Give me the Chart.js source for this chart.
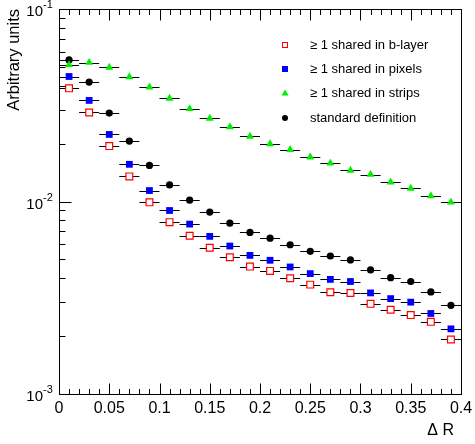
<!DOCTYPE html>
<html>
<head>
<meta charset="utf-8">
<script src="https://cdn.jsdelivr.net/npm/chart.js@4.4.1/dist/chart.umd.min.js"></script>
<style>
  html, body { margin: 0; padding: 0; background: #fff; }
  canvas { display: block; }
</style>
</head>
<body>
<canvas id="chart" width="475" height="444"></canvas>
<script>
// bin centres in delta R (bin width 0.02)
const binCenters = [0.01,0.03,0.05,0.07,0.09,0.11,0.13,0.15,0.17,0.19,0.21,0.23,0.25,0.27,0.29,0.31,0.33,0.35,0.37,0.39];
const binHalfWidth = 0.01;

const bLayer   = [0.0387,0.0290,0.0194,0.0135,0.0099,0.00781,0.00664,0.00575,0.00513,0.00459,0.00436,0.00399,0.00370,0.00338,0.00335,0.00294,0.00274,0.00257,0.00237,0.00192];
const pixels   = [0.0446,0.0335,0.0223,0.0156,0.0114,0.00898,0.00763,0.00659,0.00587,0.00525,0.00495,0.00457,0.00422,0.00394,0.00384,0.00335,0.00313,0.00300,0.00262,0.00218];
const strips   = [0.0513,0.0527,0.0497,0.0444,0.0393,0.0343,0.0303,0.0270,0.0244,0.0218,0.0199,0.0186,0.0170,0.0158,0.0145,0.0138,0.0126,0.0117,0.0107,0.00991];
const standard = [0.0544,0.0417,0.0288,0.0206,0.0154,0.0122,0.01016,0.00881,0.00772,0.00691,0.00645,0.00596,0.00551,0.00521,0.00497,0.00441,0.00402,0.00384,0.00339,0.00289];

const seriesLabels = ['\u2265 1 shared in b-layer', '\u2265 1 shared in pixels', '\u2265 1 shared in strips', 'standard definition'];

const xTickValues = [0, 0.05, 0.1, 0.15, 0.2, 0.25, 0.3, 0.35, 0.4];
const xTickLabels = ['0', '0.05', '0.1', '0.15', '0.2', '0.25', '0.3', '0.35', '0.4'];
const yDecades = [0.001, 0.01, 0.1];
const yExponents = ['-3', '-2', '-1'];
const xTitle = '\u0394 R';
const yTitle = 'Arbitrary units';

const FONT = '"Liberation Sans", Arial, Helvetica, sans-serif';

function toPoints(vals) {
  return vals.map((v, i) => ({ x: binCenters[i], y: v }));
}

const rootStyle = {
  id: 'rootStyle',
  beforeDatasetsDraw(chart) {
    // horizontal error bars (bin width)
    const ctx = chart.ctx, xs = chart.scales.x, ys = chart.scales.y;
    ctx.save();
    ctx.strokeStyle = '#000';
    ctx.lineWidth = 1;
    chart.data.datasets.forEach(ds => {
      ds.data.forEach(p => {
        const y = Math.round(ys.getPixelForValue(p.y)) + 0.5;
        ctx.beginPath();
        ctx.moveTo(xs.getPixelForValue(p.x - binHalfWidth), y);
        ctx.lineTo(xs.getPixelForValue(p.x + binHalfWidth), y);
        ctx.stroke();
      });
    });
    ctx.restore();
  },
  afterDraw(chart) {
    const ctx = chart.ctx, xs = chart.scales.x, ys = chart.scales.y;
    const a = chart.chartArea;
    const L = Math.round(a.left) + 0.5, R = Math.round(a.right) + 0.5;
    const T = Math.round(a.top) + 0.5, B = Math.round(a.bottom) + 0.5;
    ctx.save();
    ctx.strokeStyle = '#000';
    ctx.lineWidth = 1;
    ctx.strokeRect(L, T, R - L, B - T);

    // x ticks, bottom and top, pointing inwards
    ctx.beginPath();
    for (let k = 0; k <= 40; k++) {
      const x = Math.round(xs.getPixelForValue(k * 0.01)) + 0.5;
      const len = (k % 5 === 0) ? 11 : 5.5;
      ctx.moveTo(x, B); ctx.lineTo(x, B - len);
      ctx.moveTo(x, T); ctx.lineTo(x, T + len);
    }
    // y ticks on the left axis
    for (let d = 0; d < yDecades.length; d++) {
      for (let m = 1; m <= 9; m++) {
        const v = yDecades[d] * m;
        if (v > 0.1 + 1e-9) break;
        const y = Math.round(ys.getPixelForValue(v)) + 0.5;
        const len = (m === 1) ? 12 : 6;
        ctx.moveTo(L, y); ctx.lineTo(L + len, y);
      }
    }
    ctx.stroke();

    // x tick labels
    ctx.fillStyle = '#000';
    ctx.font = '16px ' + FONT;
    ctx.textAlign = 'center';
    ctx.textBaseline = 'middle';
    xTickValues.forEach((v, i) => {
      ctx.fillText(xTickLabels[i], xs.getPixelForValue(v), B + 14);
    });

    // y tick labels 10^n
    yDecades.forEach((v, i) => {
      const y = ys.getPixelForValue(v);
      ctx.font = '15px ' + FONT;
      ctx.textAlign = 'right';
      ctx.textBaseline = 'middle';
      ctx.fillText('10', 43, y + 3);
      ctx.font = '11px ' + FONT;
      ctx.textAlign = 'left';
      ctx.fillText(yExponents[i], 43, y - 4);
    });

    // axis titles
    ctx.font = '16px ' + FONT;
    ctx.textAlign = 'right';
    ctx.textBaseline = 'middle';
    ctx.fillText(xTitle, 454, 431);
    ctx.save();
    ctx.translate(14, a.top);
    ctx.rotate(-Math.PI / 2);
    ctx.textAlign = 'right';
    ctx.font = '16.5px ' + FONT;
    ctx.fillText(yTitle, 0, 0);
    ctx.restore();

    // legend
    ctx.font = '13px ' + FONT;
    ctx.textAlign = 'left';
    ctx.textBaseline = 'middle';
    const rows = [45, 69, 93, 118];
    chart.data.datasets.forEach((ds, i) => {
      const y = rows[i], x = 285;
      ctx.fillStyle = ds.backgroundColor;
      ctx.strokeStyle = ds.borderColor;
      ctx.lineWidth = 1;
      if (ds.pointStyle === 'rect') {
        ctx.fillRect(x - 3, y - 3, 6, 6);
        ctx.strokeRect(x - 2.5, y - 2.5, 5, 5);
      } else if (ds.pointStyle === 'triangle') {
        ctx.beginPath();
        ctx.moveTo(x, y - 3.5); ctx.lineTo(x + 3.5, y + 2.5); ctx.lineTo(x - 3.5, y + 2.5);
        ctx.closePath(); ctx.fill();
      } else {
        ctx.beginPath(); ctx.arc(x, y, 3, 0, Math.PI * 2); ctx.fill();
      }
      ctx.fillStyle = '#000';
      ctx.fillText(seriesLabels[i], 310, y);
    });
    ctx.restore();
  }
};

new Chart(document.getElementById('chart'), {
  type: 'scatter',
  data: {
    datasets: [
      { label: seriesLabels[0], data: toPoints(bLayer), pointStyle: 'rect', pointRadius: 4.8, borderWidth: 1.2, borderColor: '#ff0000', backgroundColor: '#ffffff' },
      { label: seriesLabels[1], data: toPoints(pixels), pointStyle: 'rect', pointRadius: 4.8, borderWidth: 0, borderColor: '#0000ff', backgroundColor: '#0000ff' },
      { label: seriesLabels[2], data: toPoints(strips), pointStyle: 'triangle', pointRadius: 4.6, borderWidth: 0, borderColor: '#00ee00', backgroundColor: '#00ee00' },
      { label: seriesLabels[3], data: toPoints(standard), pointStyle: 'circle', pointRadius: 3.6, borderWidth: 0, borderColor: '#000000', backgroundColor: '#000000' }
    ]
  },
  options: {
    responsive: false,
    animation: false,
    layout: { padding: { left: 59, right: 14, top: 9, bottom: 50 } },
    plugins: { legend: { display: false }, tooltip: { enabled: false } },
    scales: {
      x: { type: 'linear', min: 0, max: 0.4, display: false },
      y: { type: 'logarithmic', min: 0.001, max: 0.1, display: false }
    }
  },
  plugins: [rootStyle]
});
</script>
</body>
</html>
